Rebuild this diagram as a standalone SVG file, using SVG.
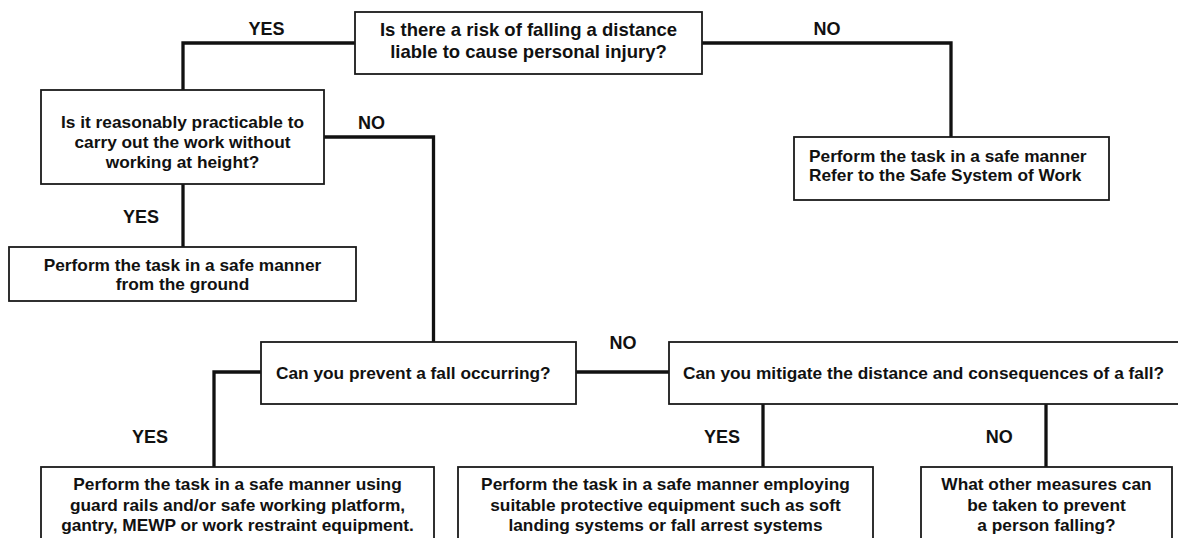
<svg xmlns="http://www.w3.org/2000/svg" width="1178" height="538" viewBox="0 0 1178 538">
<style>
.box{fill:#fff;stroke:#1a1a1a;stroke-width:1.8}
.t{font-family:"Liberation Sans",Arial,sans-serif;font-weight:bold;font-size:17.3px;fill:#111}
.c{text-anchor:middle}
.big{font-size:18.5px}
.lbl{font-family:"Liberation Sans",Arial,sans-serif;font-weight:bold;font-size:18px;fill:#111;text-anchor:middle}
.conn{fill:none;stroke:#111;stroke-width:3.3;stroke-linejoin:miter;stroke-linecap:butt}
</style>
<rect width="1178" height="538" fill="#fff"/>
<g id="connectors">
<polyline class="conn" points="355,43 183,43 183,90"/>
<polyline class="conn" points="702,43 951,43 951,137"/>
<line class="conn" x1="183" y1="184" x2="183" y2="247"/>
<polyline class="conn" points="324,137 433.5,137 433.5,342"/>
<polyline class="conn" points="261,372 214,372 214,467"/>
<line class="conn" x1="576" y1="372" x2="669" y2="372"/>
<line class="conn" x1="763" y1="404" x2="763" y2="467"/>
<line class="conn" x1="1046" y1="404" x2="1046" y2="467"/>
<text class="lbl" x="266.5" y="35">YES</text>
<text class="lbl" x="827" y="34.7">NO</text>
<text class="lbl" x="371.5" y="129">NO</text>
<text class="lbl" x="141" y="223.3">YES</text>
<text class="lbl" x="150" y="442.7">YES</text>
<text class="lbl" x="623" y="348.7">NO</text>
<text class="lbl" x="722" y="442.7">YES</text>
<text class="lbl" x="999.3" y="442.7">NO</text>
</g>
<g id="n1">
<rect class="box" x="355" y="12" width="347" height="62"/>
<text class="t c big" x="528.5" y="36">Is there a risk of falling a distance</text>
<text class="t c big" x="528.5" y="57.7">liable to cause personal injury?</text>
</g>
<g id="n2">
<rect class="box" x="41" y="90" width="283" height="94"/>
<text class="t c" x="182.5" y="128.3">Is it reasonably practicable to</text>
<text class="t c" x="182.5" y="148">carry out the work without</text>
<text class="t c" x="182.5" y="168.3">working at height?</text>
</g>
<g id="n3">
<rect class="box" x="794" y="137" width="315" height="63"/>
<text class="t" x="809" y="161.7">Perform the task in a safe manner</text>
<text class="t" x="809" y="181">Refer to the Safe System of Work</text>
</g>
<g id="n4">
<rect class="box" x="9" y="247" width="347" height="54"/>
<text class="t c" x="182.5" y="270.7">Perform the task in a safe manner</text>
<text class="t c" x="182.5" y="290">from the ground</text>
</g>
<g id="n5">
<rect class="box" x="261" y="342" width="315" height="62"/>
<text class="t" x="276" y="379">Can you prevent a fall occurring?</text>
</g>
<g id="n6">
<rect class="box" x="41" y="467" width="393" height="80"/>
<text class="t c" x="237.5" y="490">Perform the task in a safe manner using</text>
<text class="t c" x="237.5" y="510.5">guard rails and/or safe working platform,</text>
<text class="t c" x="237.5" y="531">gantry, MEWP or work restraint equipment.</text>
</g>
<g id="n7">
<rect class="box" x="669" y="342" width="516" height="62"/>
<text class="t" x="683" y="379">Can you mitigate the distance and consequences of a fall?</text>
</g>
<g id="n8">
<rect class="box" x="458" y="467" width="415" height="80"/>
<text class="t c" x="665.5" y="490">Perform the task in a safe manner employing</text>
<text class="t c" x="665.5" y="510.5">suitable protective equipment such as soft</text>
<text class="t c" x="665.5" y="531">landing systems or fall arrest systems</text>
</g>
<g id="n9">
<rect class="box" x="921" y="467" width="251" height="80"/>
<text class="t c" x="1046.5" y="490">What other measures can</text>
<text class="t c" x="1046.5" y="510.5">be taken to prevent</text>
<text class="t c" x="1046.5" y="531">a person falling?</text>
</g>
</svg>
